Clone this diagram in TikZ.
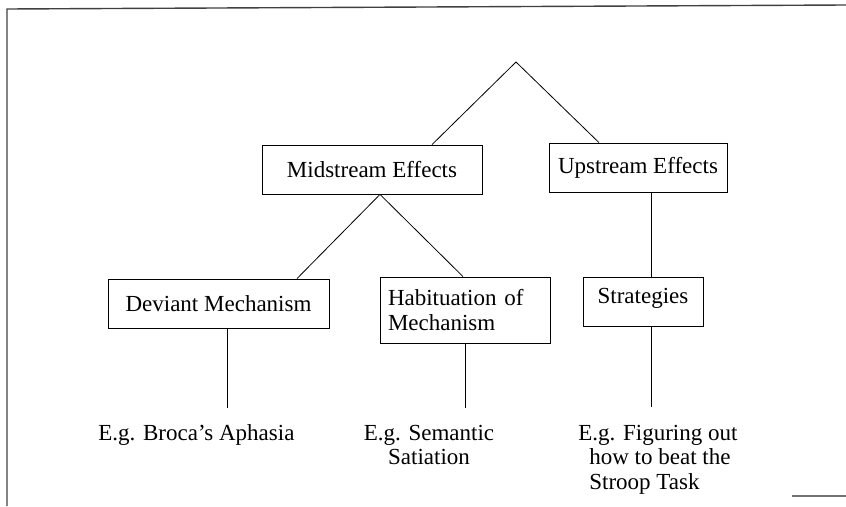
\documentclass[tikz,border=0pt]{standalone}
\usepackage{fontspec}
\setmainfont{Liberation Serif}
\usetikzlibrary{positioning}
\tikzset{
  effbox/.style={draw, line width=0.8pt, inner sep=0pt, align=center},
  example/.style={inner sep=0pt},
}

\begin{document}
\begin{tikzpicture}[x=1pt,y=-1pt,line width=0.8pt,font=\fontsize{23}{24.8}\selectfont]
\useasboundingbox (0,0) rectangle (846,506);
% frame of the scanned page
\draw[line width=1.4pt,black!75] (7,506) -- (7,9) -- (846,5);
\draw[line width=1.2pt,black!55] (792,496) -- (846,496);
% top split
\coordinate (top) at (516,62);
\node[effbox,minimum width=220pt,minimum height=49pt] (mid) at (372,169.5) {Midstream Effects};
\node[effbox,minimum width=178pt,minimum height=49pt] (up) at (638,167.5) {Upstream Effects};
\draw (top) -- ([xshift=60pt]mid.north);
\draw (top) -- ([xshift=-39pt]up.north);
% second level
\node[effbox,minimum width=221pt,minimum height=49pt] (dev) at (218.5,303.5) {Deviant Mechanism};
\node[effbox,minimum width=170pt,minimum height=66pt,text width=154pt,align=left] (hab) at (465,310) {Habituation of\\Mechanism};
\node[effbox,minimum width=120pt,minimum height=49pt,text depth=12pt] (strat) at (643,301.5) {Strategies};
\draw ([xshift=8pt]mid.south) -- ([xshift=78.5pt]dev.north);
\draw ([xshift=8pt]mid.south) -- ([xshift=-2pt]hab.north);
\draw ([xshift=13pt]up.south) -- ([xshift=8pt]strat.north);
% examples
\coordinate (devfoot) at (227,408);
\coordinate (habfoot) at (465,408);
\coordinate (stratfoot) at (651,407);
\draw ([xshift=8.5pt]dev.south) -- (devfoot);
\draw (hab.south) -- (habfoot);
\draw ([xshift=8pt]strat.south) -- (stratfoot);
\node[example,anchor=base west] (broca) at (98,440) {E.g. Broca’s Aphasia};
\node[example,anchor=north,align=center] (satiation) at (429,424.5) {E.g. Semantic\\Satiation};
\node[example,anchor=north west,align=left] (stroop) at (578,424.5) {E.g. Figuring out\\\hspace*{11pt}how to beat the\\\hspace*{11pt}Stroop Task};
\end{tikzpicture}
\end{document}
